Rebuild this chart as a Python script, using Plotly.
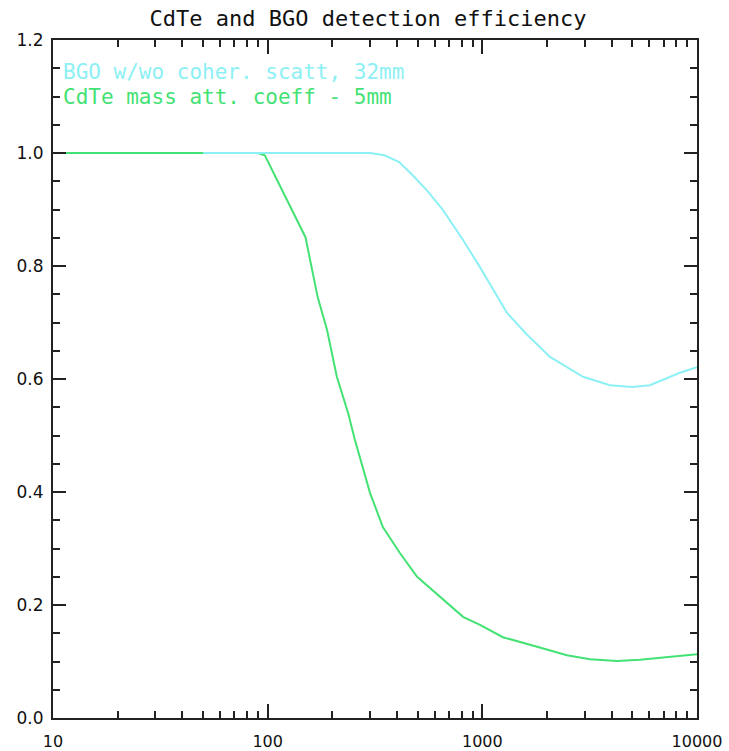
import plotly.graph_objects as go

# BGO detection efficiency (w/wo coherent scattering, 32 mm)
bgo_x = [50, 100, 200, 300, 350, 392, 410, 470, 552, 656, 813, 975, 1303, 1600,
         1857, 2066, 2500, 2944, 3935, 4980, 6030, 8320, 10000]
bgo_y = [1.0, 1.0, 1.0, 1.0, 0.996, 0.988, 0.984, 0.962, 0.934, 0.899, 0.846, 0.798,
         0.717, 0.68, 0.657, 0.639, 0.62, 0.604, 0.589, 0.586, 0.589, 0.611, 0.621]

# CdTe detection efficiency (mass att. coeff, 5 mm)
cdte_x = [10, 50, 90, 97, 137, 150, 171, 189, 210, 237, 255, 278, 300, 344, 413,
          497, 552, 656, 813, 975, 1247, 1800, 2477, 3176, 4236, 5420, 7244, 10000]
cdte_y = [1.0, 1.0, 1.0, 0.996, 0.881, 0.851, 0.745, 0.687, 0.604, 0.540, 0.492,
          0.442, 0.398, 0.338, 0.292, 0.25, 0.235, 0.209, 0.179, 0.165, 0.143,
          0.126, 0.111, 0.104, 0.101, 0.103, 0.108, 0.113]

x_tickvals = [10, 100, 1000, 10000]
x_ticktext = ["10", "100", "1000", "10000"]
y_tickvals = [0.0, 0.2, 0.4, 0.6, 0.8, 1.0, 1.2]

title_text = "CdTe and BGO detection efficiency"
bgo_label = "BGO w/wo coher. scatt, 32mm"
cdte_label = "CdTe mass att. coeff - 5mm"

cyan = "#8CF0F4"
green = "#44E274"
mono = "DejaVu Sans Mono, Liberation Mono, monospace"
sans = "DejaVu Sans, Liberation Sans, sans-serif"

fig = go.Figure()
fig.add_trace(go.Scatter(x=cdte_x, y=cdte_y, mode="lines",
                         line=dict(color=green, width=2), name=cdte_label))
fig.add_trace(go.Scatter(x=bgo_x, y=bgo_y, mode="lines",
                         line=dict(color=cyan, width=2), name=bgo_label))

fig.update_layout(
    template="none",
    width=729, height=751,
    margin=dict(l=53, r=32, t=40, b=33, autoexpand=False),
    paper_bgcolor="white", plot_bgcolor="white",
    showlegend=False,
    title=dict(text=title_text, x=368 / 729, xanchor="center", y=1 - 18 / 751,
               yanchor="middle",
               font=dict(family=mono, size=22, color="#111111")),
    font=dict(family=sans, size=16, color="black"),
)

fig.update_xaxes(
    type="log", range=[1, 4], automargin=False,
    tickvals=x_tickvals, ticktext=x_ticktext,
    ticks="inside", ticklen=14, tickwidth=1.5, tickcolor="#222222",
    showline=True, linecolor="#222222", linewidth=2, mirror="allticks",
    showgrid=False, zeroline=False,
    minor=dict(dtick="D1", ticks="inside", ticklen=7, tickwidth=1.5,
               tickcolor="#222222", showgrid=False),
    tickfont=dict(family=sans, size=16, color="#111111"),
    ticklabelstandoff=8,
)
fig.update_yaxes(
    range=[0, 1.2], automargin=False,
    tickvals=y_tickvals, tickformat=".1f",
    ticks="inside", ticklen=13, tickwidth=1.5, tickcolor="#222222",
    showline=True, linecolor="#222222", linewidth=2, mirror="allticks",
    showgrid=False, zeroline=False,
    minor=dict(dtick=0.05, ticks="inside", ticklen=7, tickwidth=1.5,
               tickcolor="#222222", showgrid=False),
    tickfont=dict(family=sans, size=17, color="#111111"),
    ticklabelstandoff=4,
)

fig.add_annotation(xref="paper", yref="paper", x=0.012, y=(718 - 72) / 678,
                   xanchor="left", yanchor="middle", showarrow=False,
                   text=bgo_label, font=dict(family=mono, size=21, color=cyan))
fig.add_annotation(xref="paper", yref="paper", x=0.012, y=(718 - 97) / 678,
                   xanchor="left", yanchor="middle", showarrow=False,
                   text=cdte_label, font=dict(family=mono, size=21, color=green))

fig.write_html("out.html")
